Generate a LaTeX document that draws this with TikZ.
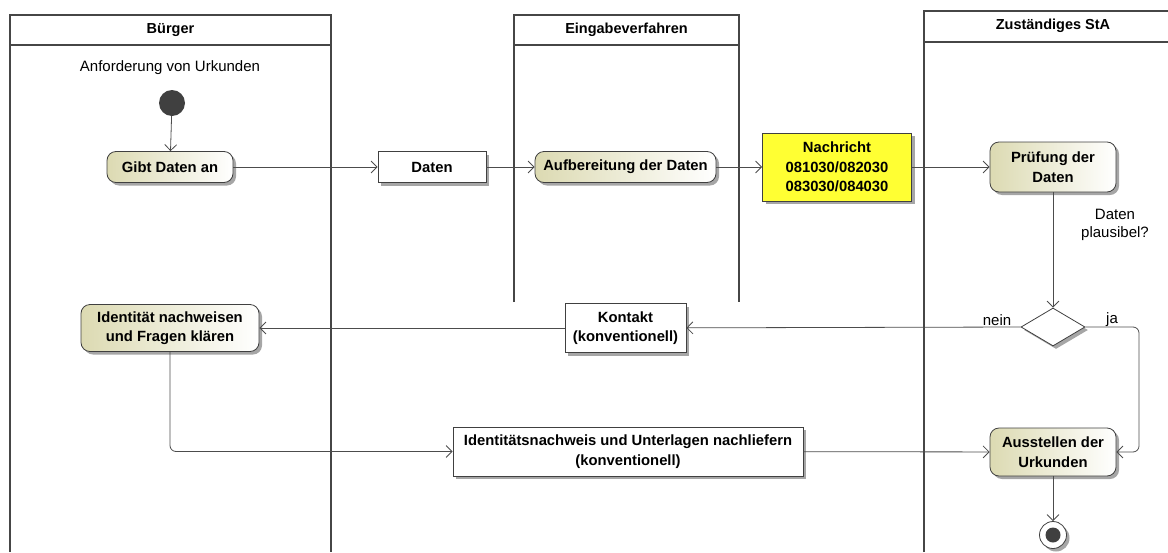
\documentclass[tikz,border=0pt]{standalone}
\usepackage{fontspec}
\setmainfont{Liberation Sans}
\usetikzlibrary{arrows.meta, shapes.geometric, shadows}

\definecolor{actfill}{RGB}{220,218,178}
\definecolor{msgfill}{RGB}{255,255,51}
\definecolor{laneline}{RGB}{70,70,70}

\begin{document}
\begin{tikzpicture}[x=1pt, y=-1pt,
  lane/.style={draw=laneline, line width=2pt},
  lanehead/.style={font=\fontsize{14.5}{16}\selectfont\bfseries},
  plain/.style={font=\fontsize{15}{18}\selectfont, align=center, inner sep=1pt},
  boxshadow/.style={drop shadow={shadow xshift=3pt, shadow yshift=-3pt, fill=black!35, opacity=1}},
  activity/.style={draw=black!75, line width=0.8pt, rounded corners=9pt, left color=actfill, right color=white,
    boxshadow, font=\fontsize{14.8}{19.5}\selectfont\bfseries, align=center, inner sep=2pt},
  object/.style={draw=black!75, line width=0.8pt, fill=white, boxshadow,
    font=\fontsize{14.8}{19.5}\selectfont\bfseries, align=center, inner sep=2pt},
  startnode/.style={circle, fill=black!75, minimum size=26pt, inner sep=0pt},
  endnode/.style={circle, draw=black!75, line width=0.8pt, fill=white, boxshadow, minimum size=27pt, inner sep=0pt},
  decision/.style={diamond, draw=black!75, line width=0.8pt, fill=white, boxshadow, aspect=1.7,
    minimum width=64pt, minimum height=38pt, inner sep=0pt},
  flow/.style={draw=black!70, line width=0.8pt, -{Straight Barb[length=6pt, width=12pt]}}]

  \useasboundingbox (0,0) rectangle (1168,552);

  % swimlanes
  \draw[lane] (10,552) |- (331,15) -- (331,552);
  \draw[lane] (10,45) -- (331,45);
  \node[lanehead] (hbuerger) at (170.5,30) {Bürger};
  \draw[lane] (514,302) |- (739,15) -- (739,302);
  \draw[lane] (514,45) -- (739,45);
  \node[lanehead] (heingabe) at (626.5,30) {Eingabeverfahren};
  \draw[lane] (924,552) |- (1175,11);
  \draw[lane] (924,42) -- (1175,42);
  \node[lanehead] (hsta) at (1053,26) {Zuständiges StA};

  % Buerger
  \node[plain] (anford) at (170,68) {Anforderung von Urkunden};
  \node[startnode] (start) at (172,103) {};
  \node[activity, minimum width=126pt, minimum height=31pt] (gibt) at (170,167) {Gibt Daten an};
  \node[activity, minimum width=178pt, minimum height=47pt] (ident) at (170,328) {Identität nachweisen\\und Fragen klären};

  % objects between lanes
  \node[object, minimum width=108pt, minimum height=31pt] (daten) at (432,167) {Daten};
  \node[object, fill=msgfill, minimum width=149pt, minimum height=68pt] (nachr) at (837,167) {Nachricht\\081030/082030\\083030/084030};
  \node[object, minimum width=121pt, minimum height=49pt] (kontakt) at (625.5,328) {Kontakt\\(konventionell)};
  \node[object, minimum width=350pt, minimum height=49pt] (nachweis) at (628,451.5) {Identitätsnachweis und Unterlagen nachliefern\\(konventionell)};

  % Eingabeverfahren
  \node[activity, minimum width=181pt, minimum height=31pt] (aufb) at (625.5,167) {Aufbereitung der Daten};

  % StA
  \node[activity, minimum width=126pt, minimum height=50pt] (pruef) at (1053,167) {Prüfung der\\Daten};
  \node[plain] (plausibel) at (1115,225) {Daten\\plausibel?};
  \node[decision] (dec) at (1053,327) {};
  \node[plain] (nein) at (997,320) {nein};
  \node[plain] (ja) at (1112,320) {ja};
  \node[activity, minimum width=126pt, minimum height=48pt] (ausst) at (1053,452) {Ausstellen der\\Urkunden};
  \node[endnode] (end) at (1053,535) {};
  \fill[black!75] (end.center) circle (7.5pt);
  \coordinate (jaturn) at (1139,452);

  % flows
  \draw[flow] (start) -- (gibt);
  \draw[flow] (gibt) -- (daten);
  \draw[flow] (daten) -- (aufb);
  \draw[flow] (aufb) -- (nachr);
  \draw[flow] (nachr) -- (pruef);
  \draw[flow] (pruef) -- (dec);
  \draw[flow] (dec.west) -- (kontakt);
  \draw[flow] (kontakt) -- (ident);
  \draw[flow, rounded corners=6pt] (ident.south) |- (nachweis.west);
  \draw[flow] (nachweis) -- (ausst);
  \draw[flow, rounded corners=6pt] (dec.east) -| (jaturn) -- (ausst.east);
  \draw[flow] (ausst) -- (end);
\end{tikzpicture}
\end{document}
